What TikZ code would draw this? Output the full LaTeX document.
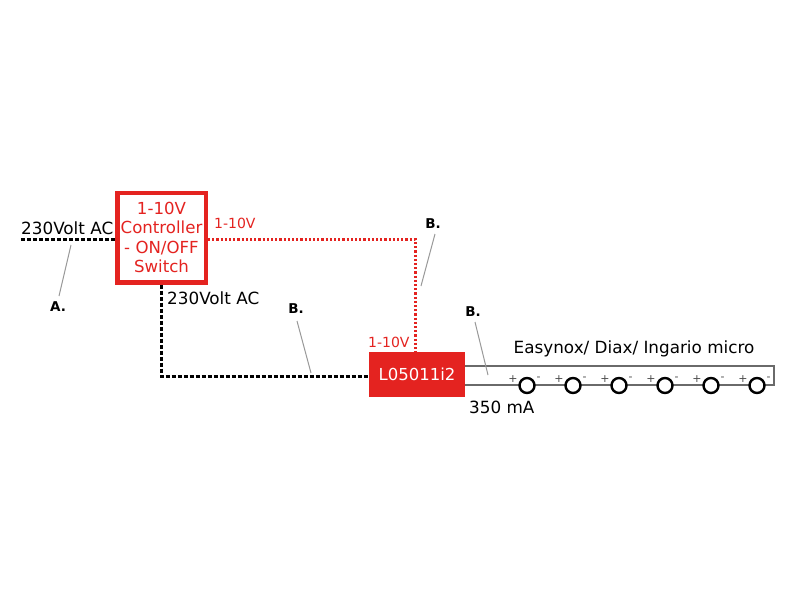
\documentclass[tikz,border=0pt]{standalone}
\usepackage{fontspec}
\setmainfont{DejaVu Sans}
\definecolor{myred}{HTML}{E42320}
\definecolor{wire}{HTML}{6A6A6A}
\tikzset{
  txt/.style={inner sep=0pt,font=\fontsize{16.8}{18}\selectfont,text=black},
  redsm/.style={inner sep=0pt,font=\fontsize{14}{15}\selectfont,text=myred},
  letter/.style={inner sep=0pt,font=\fontsize{13.5}{15}\selectfont\bfseries,text=black},
  pm/.style={inner sep=0pt,font=\fontsize{11}{12}\selectfont,text=black!70},
  power/.style={line width=3pt,dash pattern=on 4pt off 2pt,black},
  signal/.style={line width=3pt,dash pattern=on 2.2pt off 2pt,myred},
  leader/.style={line width=1pt,black!40},
  wireline/.style={line width=1.4pt,wire},
  led/.style={circle,draw=black,line width=2.4pt,fill=white,minimum size=15pt,inner sep=0pt}
}
\begin{document}
\begin{tikzpicture}[x=1pt,y=-1pt]
\useasboundingbox (0,0) rectangle (800,600);
\fill[white] (0,0) rectangle (800,600);
% coordinates
\coordinate (acin) at (21,239);
\coordinate (acbend) at (161,376);
\coordinate (sigbend) at (415,239);
\coordinate (wireR) at (774,366);
\coordinate (wireRb) at (774,385);
% boxes
\node[draw=myred,line width=4.5pt,fill=white,minimum width=88.5pt,minimum height=89.5pt,inner sep=0pt,
  align=center,text=myred,font=\fontsize{16.6}{19.6}\selectfont] (ctrl) at (161.5,237.5)
  {1-10V\\Controller\\- ON/OFF\\Switch};
\node[fill=myred,minimum width=96pt,minimum height=45pt,inner sep=0pt,text=white,
  font=\fontsize{16.5}{18}\selectfont] (drv) at (417,374.5) {L05011i2};
% connectors
\draw[power] (acin) -- (acin -| ctrl.west);
\draw[power] (ctrl.south -| acbend) -- (acbend) -- (acbend -| drv.west);
\draw[signal] (ctrl.east |- sigbend) -- (sigbend) -- (sigbend |- drv.north);
\draw[wireline] (drv.east |- wireR) -- (wireR) -- (wireRb) -- (drv.east |- wireRb);
% LEDs
\foreach \n/\x in {1/527,2/573,3/619,4/665,5/711,6/757}{
  \node[led] (led\n) at (\x,385.5) {};
  \node[pm] (plus\n) at (\x-14,379) {+};
  \node[pm] (minus\n) at (\x+11.5,378.5) {-};
}
% labels
\node[txt,anchor=base west] (l1) at (21,234.5) {230Volt AC};
\node[txt,anchor=base west] (l2) at (167,304) {230Volt AC};
\node[txt,anchor=base west] (l3) at (469,413.5) {350 mA};
\node[txt,anchor=base west] (l4) at (513.5,353) {Easynox/ Diax/ Ingario micro};
\node[redsm,anchor=base west] (r1) at (214,228.5) {1-10V};
\node[redsm,anchor=base west] (r2) at (368,347.5) {1-10V};
\node[letter] (a) at (58,307) {A.};
\node[letter] (b1) at (296,309) {B.};
\node[letter] (b2) at (433,224) {B.};
\node[letter] (b3) at (473,312) {B.};
% leaders
\coordinate (a1) at (71,245);
\coordinate (a2) at (59,296);
\coordinate (b1a) at (297,321);
\coordinate (b1b) at (311,373);
\coordinate (b2a) at (435,234);
\coordinate (b2b) at (421,286);
\coordinate (b3a) at (475,322);
\coordinate (b3b) at (488,375);
\draw[leader] (a1) -- (a2);
\draw[leader] (b1a) -- (b1b);
\draw[leader] (b2a) -- (b2b);
\draw[leader] (b3a) -- (b3b);
\end{tikzpicture}
\end{document}
